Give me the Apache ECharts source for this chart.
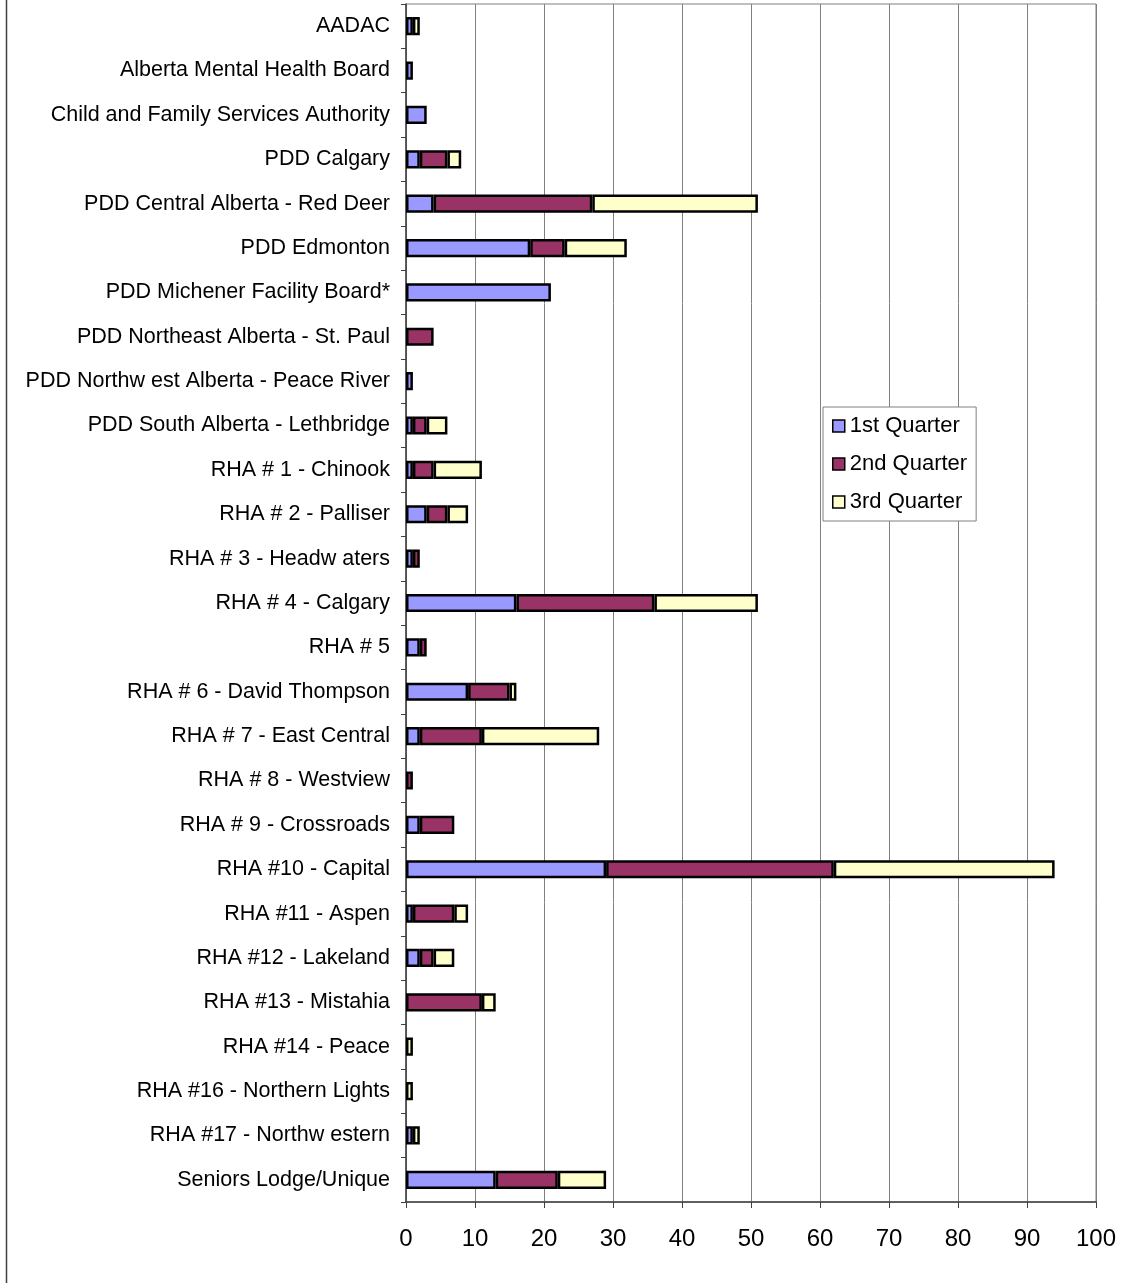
<!DOCTYPE html>
<html><head><meta charset="utf-8">
<script src="https://cdn.jsdelivr.net/npm/echarts@6/dist/echarts.min.js"></script>
<style>html,body{margin:0;padding:0;background:#fff}#c{width:1130px;height:1283px}</style>
</head><body><div id="c"></div>
<script>
const categories = ["AADAC","Alberta Mental Health Board","Child and Family Services Authority","PDD Calgary","PDD Central Alberta - Red Deer","PDD Edmonton","PDD Michener Facility Board*","PDD Northeast Alberta - St. Paul","PDD Northw est Alberta - Peace River","PDD South Alberta - Lethbridge","RHA # 1 - Chinook","RHA # 2 - Palliser","RHA # 3 - Headw aters","RHA # 4 - Calgary","RHA # 5","RHA # 6 - David Thompson","RHA # 7 - East Central","RHA # 8 - Westview","RHA # 9 - Crossroads","RHA #10 - Capital","RHA #11 - Aspen","RHA #12 - Lakeland","RHA #13 - Mistahia","RHA #14 - Peace","RHA #16 - Northern Lights","RHA #17 - Northw estern","Seniors Lodge/Unique"];
const q1 = [1,1,3,2,4,18,21,0,1,1,1,3,1,16,2,9,2,0,2,29,1,2,0,0,0,1,13];
const q2 = [0,0,0,4,23,5,0,4,0,2,3,3,1,20,1,6,9,1,5,33,6,2,11,0,0,0,9];
const q3 = [1,0,0,2,24,9,0,0,0,3,7,3,0,15,0,1,17,0,0,32,2,3,2,1,1,1,7];
const seriesNames = ["1st Quarter","2nd Quarter","3rd Quarter"];
const xTicks = [0,10,20,30,40,50,60,70,80,90,100];

const colors = ['#9999FF','#993366','#FFFFCC'];
const font = 'Liberation Sans, Arial, sans-serif';
const chart = echarts.init(document.getElementById('c'));
const mk = (name, vals, i) => ({
  name, type:'bar', stack:'q', barWidth:'41%',
  data: vals.map(v => v === 0 ? '-' : v),
  itemStyle:{color:colors[i], borderColor:'#000', borderWidth:2.5},
  emphasis:{disabled:true}
});
chart.setOption({
  animation:false,
  textStyle:{fontFamily:font},
  grid:{left:406, right:34, top:4, bottom:81, containLabel:false, show:true, borderColor:'#808080', borderWidth:1},
  legend:{
    orient:'vertical', left:823, top:407,
    data:seriesNames, icon:'rect', itemWidth:12, itemHeight:12, itemGap:16,
    padding:[8,9,8,9],
    borderColor:'#808080', borderWidth:1, backgroundColor:'#fff',
    textStyle:{fontSize:22, color:'#000', fontFamily:font},
    itemStyle:{borderColor:'#000', borderWidth:1.5}
  },
  xAxis:{
    type:'value', min:0, max:100, interval:10,
    axisLine:{show:true, lineStyle:{color:'#404040', width:1.5}},
    axisTick:{show:true, length:6, lineStyle:{color:'#404040'}},
    axisLabel:{fontSize:24, color:'#000', margin:25, fontFamily:font,
      formatter: v => xTicks.includes(v) ? String(v) : ''},
    splitLine:{show:true, lineStyle:{color:'#808080', width:1}}
  },
  yAxis:{
    type:'category', data:categories, inverse:true,
    axisLine:{show:true, lineStyle:{color:'#404040', width:1.5}},
    axisTick:{show:true, length:5, lineStyle:{color:'#404040'}},
    axisLabel:{fontSize:21.5, color:'#000', margin:16, fontFamily:font},
    splitLine:{show:false}
  },
  series:[mk(seriesNames[0], q1, 0), mk(seriesNames[1], q2, 1), mk(seriesNames[2], q3, 2)],
  graphic:[{type:'line', shape:{x1:6.5,y1:0,x2:6.5,y2:1283}, style:{stroke:'#404040', lineWidth:1.5}}]
});
</script></body></html>
